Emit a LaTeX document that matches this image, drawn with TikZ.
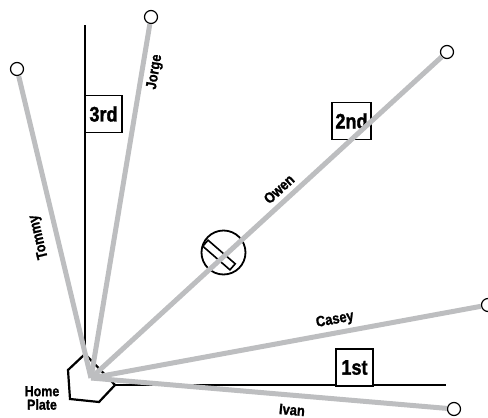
\documentclass[tikz,border=0pt]{standalone}
\usepackage{fontspec}
\newfontfamily\labfont[FakeStretch=0.86,FakeBold=1.2]{Liberation Sans Bold}
\newfontfamily\basefont[FakeStretch=0.86,FakeBold=1.5]{Liberation Sans Bold}
\definecolor{pathgray}{HTML}{BDBEC0}
\begin{document}
\begin{tikzpicture}[x=1pt,y=-1pt,
  foul/.style={line width=2.2pt, draw=black},
  runpath/.style={line width=5pt, draw=pathgray},
  endpt/.style={circle, draw=black, fill=white, line width=1.2pt, minimum size=13pt, inner sep=0pt},
  basebox/.style={draw=black, fill=white, line width=1.8pt, minimum width=37pt, minimum height=37pt, inner sep=0pt, font=\basefont\fontsize{21}{21}\selectfont},
  lbl/.style={font=\labfont\fontsize{15}{13.5}\selectfont, inner sep=0pt}]
\useasboundingbox (0,0) rectangle (488,418);
% foul lines and home plate
\coordinate (H) at (91,378);
\coordinate (thirdtop) at (85,25);
\coordinate (platetop) at (85,354);
\coordinate (plateright) at (115,385);
\coordinate (firstend) at (446,385);
\draw[foul] (thirdtop) -- (platetop);
\draw[foul] (plateright) -- (firstend);
\draw[foul, line join=miter] (platetop) -- (68,370) -- (70,399) -- (99,402) -- (plateright) -- cycle;
% bases
\node[basebox] (third) at (103.5,114) {3rd};
\node[basebox, minimum width=39pt] (second) at (351.5,121) {2nd};
\node[basebox] (first) at (354.5,367.5) {1st};
% pitcher's mound
\node[circle, draw=black, line width=1.8pt, minimum size=44pt, inner sep=0pt] (mound) at (223.5,252.5) {};
\node[draw=black, line width=1.6pt, minimum width=36pt, minimum height=8pt, inner sep=0pt, rotate=-41] (rubber) at (219,255) {};
% runner end points
\node[endpt] (tommy) at (17,69) {};
\node[endpt] (jorge) at (151,17) {};
\node[endpt] (owen) at (447,52) {};
\node[endpt] (casey) at (488,305) {};
\node[endpt] (ivan) at (454,409) {};
% paths
\draw[runpath] (H) -- (tommy);
\draw[runpath] (H) -- (jorge);
\draw[runpath] (H) -- (owen);
\draw[runpath] (H) -- (casey);
\draw[runpath] (H) -- (ivan);
% labels
\node[lbl, rotate=80.6] (ljorge) at (155,72) {Jorge};
\node[lbl, rotate=103.5] (ltommy) at (39,237) {Tommy};
\node[lbl, rotate=42.5] (lowen) at (279,189) {Owen};
\node[lbl, rotate=10.4] (lcasey) at (335,320) {Casey};
\node[lbl, rotate=-4.9] (livan) at (292,410) {Ivan};
\node[lbl, align=center, font=\labfont\fontsize{14.5}{13.5}\selectfont] (lhome) at (42,398) {Home\\Plate};
\end{tikzpicture}
\end{document}
